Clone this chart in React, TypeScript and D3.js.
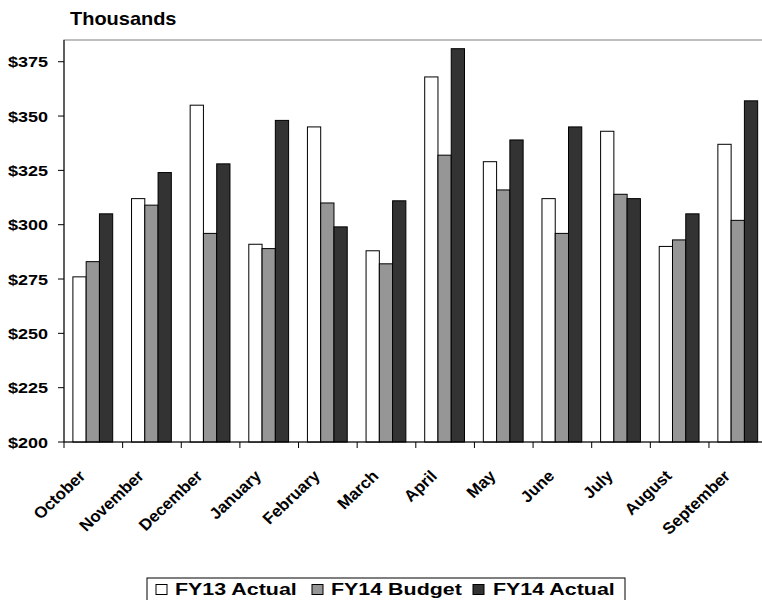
import React from "react";
import * as d3 from "d3";

const months = ["October", "November", "December", "January", "February", "March", "April", "May", "June", "July", "August", "September"];
const seriesNames = ["FY13 Actual", "FY14 Budget", "FY14 Actual"];
const fy13Actual = [276, 312, 355, 291, 345, 288, 368, 329, 312, 343, 290, 337];
const fy14Budget = [283, 309, 296, 289, 310, 282, 332, 316, 296, 314, 293, 302];
const fy14Actual = [305, 324, 328, 348, 299, 311, 381, 339, 345, 312, 305, 357];
const yTicks = [200, 225, 250, 275, 300, 325, 350, 375];

const colors = ["#ffffff", "#969696", "#333333"];
const FONT = "'Liberation Sans', Arial, Helvetica, sans-serif";

export default function App() {
  const W = 762, H = 600;
  const left = 64, right = 767.6, top = 40, bottom = 442;

  const x = d3.scaleBand<string>().domain(months).range([left, right]).paddingInner(0).paddingOuter(0);
  const xs = d3.scaleBand<string>().domain(seriesNames).range([8.9, 48.7]).paddingInner(0);
  const y = d3.scaleLinear().domain([200, 385]).range([bottom, top]);

  const series = [fy13Actual, fy14Budget, fy14Actual];
  const fmt = (v: number) => "$" + d3.format("d")(v);

  // legend layout
  const legend = [
    { sx: 156, tx: 175 },
    { sx: 312, tx: 331 },
    { sx: 473, tx: 493 },
  ];

  return (
    <svg width={W} height={H} style={{ position: "absolute", left: 0, top: 0, background: "#fff" }}>
      <rect x={0} y={0} width={W} height={H} fill="#fff" />
      {/* plot area frame */}
      <rect x={left} y={top} width={right - left} height={bottom - top} fill="none" stroke="#808080" strokeWidth={1} />

      {/* bars */}
      {months.map((m, i) => (
        <g key={m}>
          {series.map((s, k) => (
            <rect
              key={k}
              x={(x(m) as number) + (xs(seriesNames[k]) as number)}
              y={y(s[i])}
              width={xs.bandwidth()}
              height={y(200) - y(s[i])}
              fill={colors[k]}
              stroke="#000"
              strokeWidth={1}
            />
          ))}
        </g>
      ))}

      {/* y axis */}
      <line x1={left} x2={left} y1={top} y2={bottom} stroke="#000" strokeWidth={1} />
      {yTicks.map((t) => (
        <g key={t}>
          <line x1={left - 6} x2={left} y1={y(t)} y2={y(t)} stroke="#000" strokeWidth={1} />
          <g transform={`translate(48,${y(t) + 5.5}) scale(1.2,1)`}>
            <text textAnchor="end" fontFamily={FONT} fontWeight="bold" fontSize={15} fill="#000">
              {fmt(t)}
            </text>
          </g>
        </g>
      ))}

      {/* x axis */}
      <line x1={left} x2={right} y1={bottom} y2={bottom} stroke="#000" strokeWidth={1} />
      {months.map((m) => (
        <line key={m} x1={x(m) as number} x2={x(m) as number} y1={bottom} y2={bottom + 6} stroke="#000" strokeWidth={1} />
      ))}
      {months.map((m) => {
        const cx = (x(m) as number) + x.bandwidth() / 2;
        return (
          <g key={m} transform={`translate(${cx - 7},${477}) scale(1.06,1) rotate(-45)`}>
            <text textAnchor="end" fontFamily={FONT} fontWeight="bold" fontSize={16} fill="#000">
              {m}
            </text>
          </g>
        );
      })}

      {/* unit label */}
      <g transform="translate(70,25) scale(1.11,1)">
        <text fontFamily={FONT} fontWeight="bold" fontSize={18} fill="#000">Thousands</text>
      </g>

      {/* legend */}
      <rect x={147} y={578} width={478} height={30} fill="#fff" stroke="#000" strokeWidth={1} />
      {legend.map((l, k) => (
        <g key={k}>
          <rect x={l.sx} y={584.5} width={11} height={10} fill={colors[k]} stroke="#000" strokeWidth={1} />
          <g transform={`translate(${l.tx},595) scale(1.26,1)`}>
            <text fontFamily={FONT} fontWeight="bold" fontSize={17} fill="#000">{seriesNames[k]}</text>
          </g>
        </g>
      ))}
    </svg>
  );
}
